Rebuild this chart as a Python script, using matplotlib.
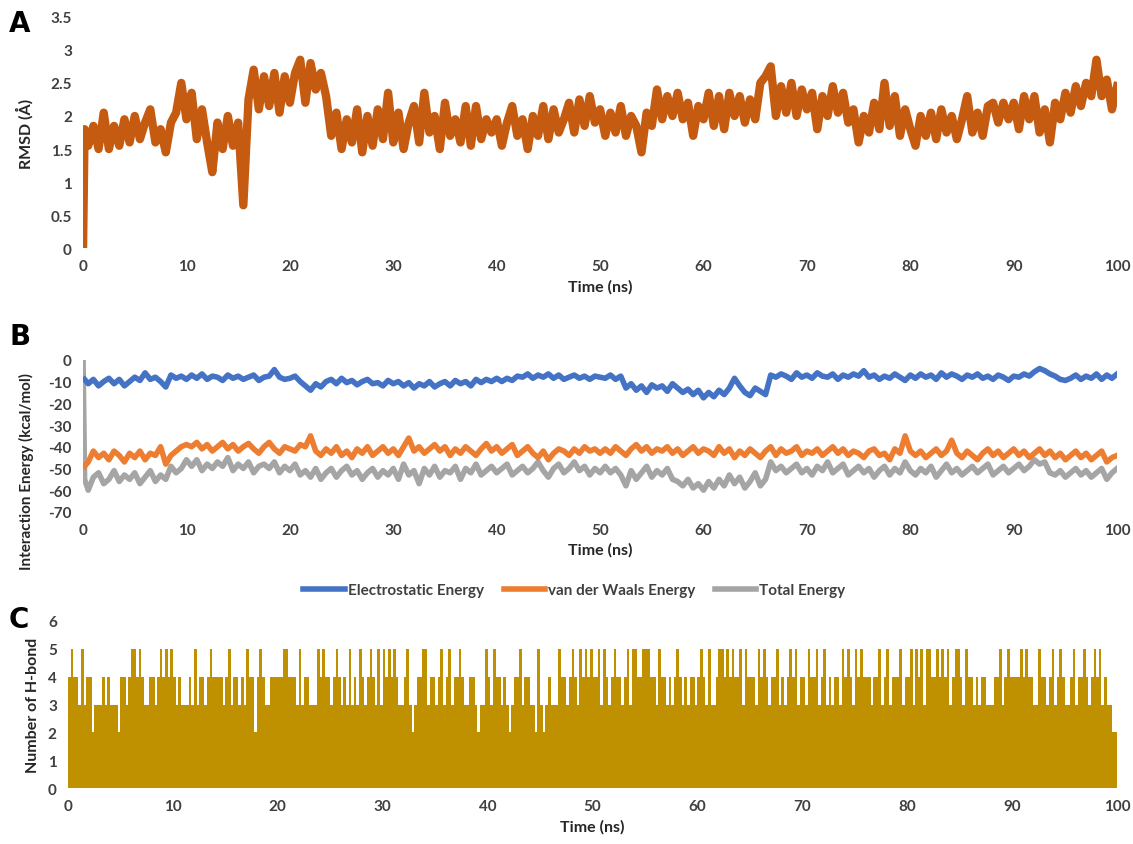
import numpy as np
import matplotlib
matplotlib.use("Agg")
import matplotlib.pyplot as plt
from matplotlib.ticker import FuncFormatter

plt.rcParams['font.family'] = ['Lato', 'DejaVu Sans']
plt.rcParams['axes.unicode_minus'] = False

# ---- panel A: RMSD, first two points at t=0 and 0.15, then every 0.5 ns
rmsd_start = [0.0, 1.8]
rmsd = [1.55, 1.85, 1.5, 2.05, 1.5, 1.85, 1.55, 1.95, 1.6, 2.0, 1.65, 1.9, 2.1, 1.6, 1.8, 1.45, 1.9, 2.05, 2.5, 1.95,
        2.35, 1.65, 2.1, 1.6, 1.15, 1.9, 1.5, 2.0, 1.55, 1.9, 0.65, 2.25, 2.7, 2.1, 2.6, 2.15, 2.65, 2.05, 2.6, 2.2,
        2.65, 2.85, 2.2, 2.8, 2.4, 2.65, 2.3, 1.7, 2.05, 1.5, 1.95, 1.6, 2.1, 1.45, 2.0, 1.55, 2.1, 1.65, 2.35, 1.6,
        2.05, 1.5, 1.9, 2.15, 1.6, 2.35, 1.75, 2.0, 1.5, 2.2, 1.7, 1.95, 1.6, 2.15, 1.55, 2.15, 1.65, 1.95, 1.75, 1.95,
        1.55, 1.9, 2.15, 1.7, 1.95, 1.5, 2.0, 1.7, 2.15, 1.65, 2.1, 1.75, 1.95, 2.2, 1.75, 2.25, 1.85, 2.3, 1.9, 2.1,
        1.7, 2.05, 1.75, 2.15, 1.7, 2.0, 1.85, 1.45, 2.05, 1.85, 2.4, 1.95, 2.3, 2.0, 2.35, 1.95, 2.2, 1.7, 2.15, 1.95,
        2.35, 1.85, 2.3, 1.8, 2.35, 2.0, 2.3, 1.9, 2.25, 1.95, 2.5, 2.6, 2.75, 2.0, 2.45, 2.05, 2.5, 2.0, 2.4, 2.1,
        2.35, 1.8, 2.3, 2.0, 2.45, 2.05, 2.35, 1.9, 2.1, 1.6, 2.0, 1.75, 2.2, 1.8, 2.5, 1.85, 2.3, 1.7, 2.1, 1.8,
        1.55, 2.0, 1.7, 2.05, 1.65, 2.1, 1.75, 2.0, 1.65, 1.95, 2.3, 1.75, 2.05, 1.7, 2.15, 2.2, 1.9, 2.2, 1.95, 2.2,
        1.8, 2.3, 1.95, 2.3, 1.75, 2.1, 1.6, 2.2, 1.95, 2.35, 2.05, 2.45, 2.15, 2.5, 2.3, 2.85, 2.3, 2.55, 2.1, 2.45]

# ---- panel B: interaction energies (kcal/mol), t=0, 0.15, then every 0.5 ns
elec_start = [np.nan, -9]
elec = [-11, -9, -12, -10, -8.5, -11, -9, -12, -10, -8, -9.5, -6, -9, -8, -10, -12.5, -7, -8.5, -7.5, -9,
        -7, -8.5, -6.5, -9, -7.5, -8, -9.5, -7, -8.5, -7.5, -9, -8, -7, -9.5, -8, -7.5, -4.5, -8, -9, -8.5,
        -7.5, -10, -12, -14, -11, -12.5, -10, -9, -11, -8.5, -10.5, -9.5, -11.5, -10, -9, -11, -10.5, -12, -9.5, -11,
        -10, -12, -10.5, -13, -11, -12, -10, -12.5, -11, -10, -12, -9.5, -11, -10, -12, -9, -10.5, -9, -10, -8.5,
        -10, -8.5, -9.5, -7.5, -8, -6.5, -8.5, -7, -8, -6.5, -8.5, -7, -9, -8, -7, -8.5, -7.5, -9, -7.5, -8,
        -8.5, -7, -9, -7.5, -13, -11, -14, -12, -15, -11.5, -13, -12, -14.5, -11, -13, -15, -13.5, -16, -14, -17.5,
        -15, -17, -14, -16, -13, -8.5, -12, -15, -16.5, -13, -14.5, -16, -7, -8, -6.5, -7.5, -9, -6, -8, -7,
        -8.5, -6, -7.5, -8, -6.5, -9, -7, -8, -6.5, -7.5, -5, -8, -7, -9, -7.5, -8.5, -6.5, -8, -9.5, -7,
        -8.5, -6.5, -8, -7, -9, -6, -8, -6.5, -7.5, -9, -7, -8, -6.5, -8.5, -7.5, -9, -7, -8, -9.5, -7.5,
        -8, -6.5, -7.5, -5.5, -4, -5, -6.5, -7.5, -9, -9.5, -8.5, -7, -9, -7.5, -8.5, -6.5, -9, -7, -8.5, -6.5]

vdw_start = [np.nan, -49]
vdw = [-47, -42, -45, -43, -46, -42, -44, -47, -43, -45, -42, -46, -43, -44, -40, -48, -44, -42, -40, -39,
       -40, -38, -41, -39, -42, -40, -38, -41, -39, -42, -40, -38.5, -41, -43, -40, -38, -41, -43, -40, -41,
       -42, -39, -40, -35, -42, -44, -41, -43, -40, -44, -42, -45, -41, -43, -40, -44, -42, -40, -43, -41,
       -44, -40, -36, -42, -40, -43, -41, -39, -42, -40, -44, -41, -43, -40, -42, -44, -41, -38.5, -42, -40,
       -43, -41, -39, -44, -42, -40, -43, -45, -42, -46, -43, -41, -42, -44, -41, -43, -40, -42, -41, -43,
       -41, -43, -40, -42, -44, -41, -39, -42, -40, -43, -41, -42, -40, -43, -41, -44, -42, -40, -43, -41,
       -42, -44, -40, -43, -41, -45, -42, -44, -41, -43, -45, -42, -40, -44, -41, -43, -42, -40, -44, -42,
       -43, -41, -44, -42, -40, -43, -41, -44, -42, -43, -45, -42, -41, -44, -43, -46, -41, -43, -35, -42,
       -44, -42, -45, -43, -41, -44, -42, -37, -43, -45, -42, -44, -46, -43, -41, -44, -42, -45, -43, -41,
       -44, -42, -45, -43, -41, -44, -42, -45, -43, -46, -44, -42, -45, -43, -46, -44, -42, -47, -45, -44]

total_start = [0, -55]
total = [-60, -54, -52, -57, -55, -51, -56, -53, -55, -52, -57, -54, -51, -56, -53, -55, -49, -52, -50, -46,
         -49, -46, -51, -48, -50, -47, -49, -45, -51, -48, -50, -47, -52, -49, -48, -50, -47, -52, -49, -51,
         -48, -53, -51, -54, -50, -55, -52, -50, -54, -51, -49, -53, -51, -55, -52, -50, -54, -51, -53, -50,
         -55, -48, -53, -51, -57, -50, -53, -49, -54, -51, -52, -49, -55, -50, -52, -48, -53, -51, -49, -52,
         -50, -48, -53, -51, -49, -52, -50, -47, -51, -54, -50, -48, -52, -50, -47, -51, -49, -53, -50, -52,
         -49, -52, -50, -53, -58, -51, -55, -52, -49, -54, -51, -53, -50, -55, -56, -58, -55, -59, -57, -60,
         -56, -59, -55, -58, -53, -57, -54, -59, -56, -52, -58, -55, -47, -51, -49, -52, -50, -48, -52, -50,
         -53, -49, -51, -47, -52, -50, -48, -53, -51, -49, -52, -50, -54, -51, -49, -53, -50, -52, -47, -51,
         -53, -50, -52, -49, -54, -51, -48, -52, -50, -53, -51, -49, -52, -50, -48, -53, -51, -49, -52, -50,
         -48, -51, -49, -46, -48, -47, -52, -53, -51, -54, -52, -50, -53, -51, -54, -52, -50, -55, -52, -50]

# ---- panel C: number of H-bonds, one digit per 0.25 ns
hbond_blocks = [
    "4544353442" "3334343332" "4434554543" "3443454545",
    "4343334353" "4434544443" "4534434354" "4245433444",
    "4455444353" "4433354544" "3454343534" "3543454353",
    "5454543345" "3234455344" "3453453445" "4334432335",
    "4354434323" "4453443325" "3234333544" "3454354545",
    "4453543454" "4345355445" "5544354434" "3454343443",
    "4543533455" "4545445354" "4435454344" "5343454534",
    "4354453453" "4344354543" "5454443445" "3453444534",
    "4535453554" "4545453455" "4354434344" "3334453454",
    "4445454433" "5443453454" "3345344543" "4545343322",
]
hbonds = [int(c) for c in "".join(hbond_blocks)]

xticks = list(range(0, 101, 10))
label_color = '#262626'
tick_color = '#404040'

time_a = np.concatenate([[0.0, 0.15], np.arange(0.5, 100.01, 0.5)])
time_b = time_a
time_c = np.arange(len(hbonds)) * 0.25 + 0.125


def style(ax):
    for s in ax.spines.values():
        s.set_visible(False)
    ax.tick_params(length=0, labelsize=11, colors=tick_color, pad=8)
    for lab in ax.get_xticklabels() + ax.get_yticklabels():
        lab.set_fontweight('bold')
    ax.set_xticks(xticks)
    ax.set_xlim(0, 100)


fig = plt.figure(figsize=(11.33, 8.45), dpi=100)

# A
axA = fig.add_axes([0.0733, 0.705, 0.9127, 0.274])
axA.plot(time_a, rmsd_start + rmsd, color='#C55A11', lw=6, solid_joinstyle='round')
axA.set_ylim(0, 3.5)
axA.set_yticks(np.arange(0, 3.51, 0.5))
axA.yaxis.set_major_formatter(FuncFormatter(lambda v, p: f"{v:g}"))
style(axA)
axA.set_xlabel("Time (ns)", fontsize=11.5, fontweight='bold', color=label_color, labelpad=4)
axA.set_ylabel("RMSD (Å)", fontsize=11.5, fontweight='bold', color=label_color, labelpad=12)
fig.text(0.008, 0.962, "A", fontsize=20, fontweight='bold', color='black', family='DejaVu Sans')

# B
axB = fig.add_axes([0.0733, 0.393, 0.9127, 0.180])
axB.plot(time_b, total_start + total, color='#A5A5A5', lw=4, label='Total Energy')
axB.plot(time_b, vdw_start + vdw, color='#ED7D31', lw=4, label='van der Waals Energy')
axB.plot(time_b, elec_start + elec, color='#4472C4', lw=4, label='Electrostatic Energy')
axB.set_ylim(-70, 0)
axB.set_yticks(range(-70, 1, 10))
style(axB)
axB.set_xlabel("Time (ns)", fontsize=11.5, fontweight='bold', color=label_color, labelpad=4)
axB.set_ylabel("Interaction Energy (kcal/mol)", fontsize=11, fontweight='bold', color=label_color)
axB.yaxis.set_label_coords(-0.047, 0.27)
fig.text(0.008, 0.592, "B", fontsize=20, fontweight='bold', color='black', family='DejaVu Sans')
h, l = axB.get_legend_handles_labels()
leg = fig.legend(h[::-1], l[::-1], loc='center', bbox_to_anchor=(0.507, 0.300), ncol=3, frameon=False,
                 fontsize=11, handlelength=2.7, columnspacing=1.3, handletextpad=0.2)
for t in leg.get_texts():
    t.set_fontweight('bold')
    t.set_color(tick_color)

# C
axC = fig.add_axes([0.060, 0.066, 0.926, 0.198])
axC.bar(time_c, hbonds, width=0.25, color='#BF9000', linewidth=0)
axC.set_ylim(0, 6)
axC.set_yticks(range(0, 7))
style(axC)
axC.set_xlabel("Time (ns)", fontsize=11.5, fontweight='bold', color=label_color, labelpad=4)
axC.set_ylabel("Number of H-bond", fontsize=11.5, fontweight='bold', color=label_color, labelpad=6)
fig.text(0.008, 0.257, "C", fontsize=20, fontweight='bold', color='black', family='DejaVu Sans')

fig.savefig("out.png", dpi=100)
